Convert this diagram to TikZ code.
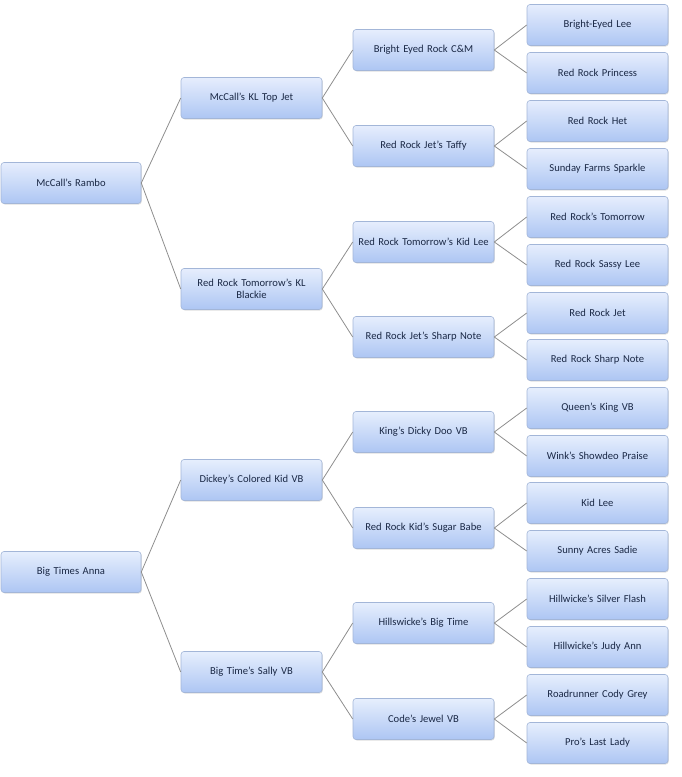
\documentclass[tikz,border=0pt]{standalone}
\usepackage{fontspec}
\setmainfont{Carlito}
\usetikzlibrary{shadows}
\definecolor{boxtop}{HTML}{E6EEFD}
\definecolor{boxbot}{HTML}{ADC5F3}
\definecolor{boxline}{HTML}{A3B6D8}
\definecolor{txt}{HTML}{1A2845}
\definecolor{wire}{HTML}{8E8E8E}
\tikzset{
  box/.style={draw=boxline, line width=0.6pt, rounded corners=3pt,
    top color=boxtop, bottom color=boxbot,
    minimum width=141pt, minimum height=41pt, inner sep=2pt,
    text width=135pt, align=center, text=txt,
    font=\fontsize{10.6}{12}\selectfont,
    drop shadow={shadow xshift=0.8pt, shadow yshift=-1pt, opacity=0.25, fill=gray}},
  wirestyle/.style={draw=wire, line width=0.8pt}
}
\begin{document}
\begin{tikzpicture}[x=1pt,y=-1pt]
\useasboundingbox (0,0) rectangle (681,777);
% level 0
\node[box, minimum width=140pt] (r1) at (71,183) {McCall’s Rambo};
\node[box, minimum width=140pt] (r2) at (71,572) {Big Times Anna};
% level 1
\node[box] (a1) at (251.5,98) {McCall’s KL Top Jet};
\node[box] (a2) at (251.5,289) {Red Rock Tomorrow’s KL\\Blackie};
\node[box] (a3) at (251.5,480) {Dickey’s Colored Kid VB};
\node[box] (a4) at (251.5,672) {Big Time’s Sally VB};
% level 2
\node[box] (b1) at (423.5,50) {Bright Eyed Rock C\&M};
\node[box] (b2) at (423.5,146) {Red Rock Jet’s Taffy};
\node[box] (b3) at (423.5,242) {Red Rock Tomorrow’s Kid Lee};
\node[box] (b4) at (423.5,337) {Red Rock Jet’s Sharp Note};
\node[box] (b5) at (423.5,432) {King’s Dicky Doo VB};
\node[box] (b6) at (423.5,528) {Red Rock Kid’s Sugar Babe};
\node[box] (b7) at (423.5,623) {Hillswicke’s Big Time};
\node[box] (b8) at (423.5,719) {Code’s Jewel VB};
% level 3
\node[box] (c1) at (597.5,25) {Bright-Eyed Lee};
\node[box] (c2) at (597.5,73) {Red Rock Princess};
\node[box] (c3) at (597.5,121) {Red Rock Het};
\node[box] (c4) at (597.5,169) {Sunday Farms Sparkle};
\node[box] (c5) at (597.5,217) {Red Rock’s Tomorrow};
\node[box] (c6) at (597.5,265) {Red Rock Sassy Lee};
\node[box] (c7) at (597.5,313) {Red Rock Jet};
\node[box] (c8) at (597.5,360) {Red Rock Sharp Note};
\node[box] (c9) at (597.5,408) {Queen’s King VB};
\node[box] (c10) at (597.5,456) {Wink’s Showdeo Praise};
\node[box] (c11) at (597.5,503) {Kid Lee};
\node[box] (c12) at (597.5,551) {Sunny Acres Sadie};
\node[box] (c13) at (597.5,599) {Hillwicke’s Silver Flash};
\node[box] (c14) at (597.5,647) {Hillwicke’s Judy Ann};
\node[box] (c15) at (597.5,695) {Roadrunner Cody Grey};
\node[box] (c16) at (597.5,743) {Pro’s Last Lady};
% connectors
\foreach \p/\c in {r1/a1,r1/a2,r2/a3,r2/a4,
  a1/b1,a1/b2,a2/b3,a2/b4,a3/b5,a3/b6,a4/b7,a4/b8,
  b1/c1,b1/c2,b2/c3,b2/c4,b3/c5,b3/c6,b4/c7,b4/c8,
  b5/c9,b5/c10,b6/c11,b6/c12,b7/c13,b7/c14,b8/c15,b8/c16}
  \draw[wirestyle] (\p.east) -- (\c.west);
\end{tikzpicture}
\end{document}
